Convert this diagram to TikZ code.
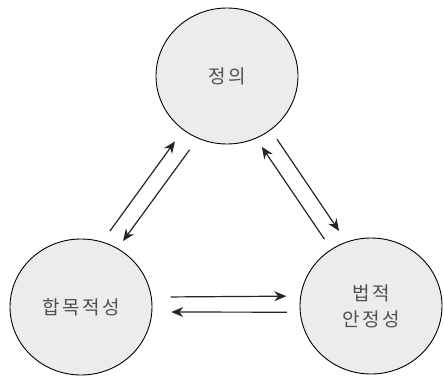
\documentclass[tikz,border=0pt]{standalone}
\usepackage{fontspec}
\usepackage{tikz}
\usetikzlibrary{arrows.meta,shapes.geometric}
\newfontfamily\kr[LetterSpace=14]{Noto Sans CJK KR}
\definecolor{topicfill}{RGB}{236, 236, 236}
\definecolor{topictext}{RGB}{80, 80, 80}

\begin{document}
\begin{tikzpicture}[x=1pt, y=-1pt,
    topic/.style={ellipse, draw=black, line width=0.9pt, fill=topicfill,
                  minimum width=142pt, minimum height=136pt, inner sep=0pt,
                  font=\kr\fontsize{19}{26}\selectfont, text=topictext,
                  align=center}, % 원 모양
    link/.style={-{Stealth[length=12pt, width=10pt]}, line width=1.2pt, black!85}]
  \useasboundingbox (0,0) rectangle (444,375);

  \node[topic] (jeong) at (227,76) {정의};
  \node[topic] (hap)   at (81,307) {합목적성};
  \node[topic] (beop)  at (371,306) {법적\\안정성};

  % 정의 -- 합목적성
  \draw[link, shorten <=13pt, shorten >=14pt] (hap.72) -- (jeong.231);
  \draw[link, shorten <=14pt, shorten >=9pt] (jeong.245) -- (hap.58);
  % 정의 -- 법적 안정성
  \draw[link, shorten <=11pt, shorten >=13pt] (jeong.309) -- (beop.111);
  \draw[link, shorten <=12pt, shorten >=10pt] (beop.125) -- (jeong.295);
  % 합목적성 -- 법적 안정성
  \draw[link, shorten <=19pt, shorten >=14pt] (hap.8) -- (beop.172);
  \draw[link, shorten <=13pt, shorten >=19pt] (beop.185) -- (hap.356);
\end{tikzpicture}
\end{document}
